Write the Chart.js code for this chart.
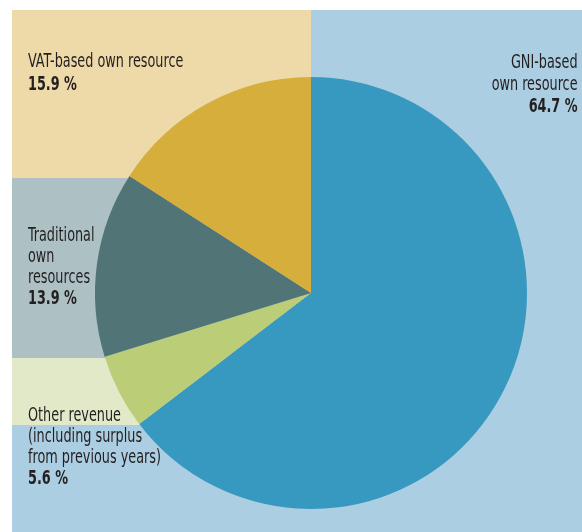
<!DOCTYPE html>
<html>
<head>
<meta charset="utf-8">
<script src="https://cdn.jsdelivr.net/npm/chart.js@4"></script>
<style>
  body { margin: 0; background: #fff; }
  #Marco { position: relative; width: 582px; height: 532px; }
  #Grafico { position: absolute; left: 0; top: 0; }
  .Etiqueta {
    position: absolute;
    font-family: "DejaVu Sans Condensed", "Liberation Sans Narrow", sans-serif;
    font-size: 19px;
    color: #231f20;
    white-space: nowrap;
    transform: scaleX(0.75);
  }
  .Etiqueta b { font-weight: bold; }
</style>
</head>
<body>
<div id="Marco">
  <canvas id="Grafico" width="582" height="532"></canvas>
  <div id="Etiquetas"></div>
</div>
<script>
const Categorias = ['GNI-based own resource', 'Other revenue (including surplus from previous years)', 'Traditional own resources', 'VAT-based own resource'];
const Valores    = [64.7, 5.6, 13.9, 15.9];
const Colores    = ['#3799bf', '#bccd78', '#517476', '#d6ae3c'];

// Lineas de texto de cada etiqueta, en el mismo orden que las categorias
const LineasEtiqueta = [
  ['GNI-based', 'own resource'],
  ['Other revenue', '(including surplus', 'from previous years)'],
  ['Traditional', 'own', 'resources'],
  ['VAT-based own resource']
];
const PosEtiqueta = [
  { right: 4,  top: 50,  alto: 22, align: 'right' },
  { left: 28,  top: 404, alto: 21, align: 'left' },
  { left: 28,  top: 224, alto: 21, align: 'left' },
  { left: 28,  top: 49,  alto: 23, align: 'left' }
];

// Bandas de fondo detras del grafico
const Fondos = [
  { x: 12,  y: 10,  w: 299, h: 168, c: '#eedaa8' },
  { x: 311, y: 10,  w: 271, h: 522, c: '#abcee2' },
  { x: 12,  y: 178, w: 299, h: 180, c: '#adc1c5' },
  { x: 12,  y: 358, w: 299, h: 67,  c: '#e2e9c8' },
  { x: 12,  y: 425, w: 299, h: 107, c: '#abcee2' }
];

const PluginFondo = {
  id: 'Fondo',
  beforeDraw(Chart) {
    const Ctx = Chart.ctx;
    Ctx.save();
    Fondos.forEach(F => {
      Ctx.fillStyle = F.c;
      Ctx.fillRect(F.x, F.y, F.w, F.h);
    });
    Ctx.restore();
  }
};

new Chart(document.getElementById('Grafico').getContext('2d'), {
  type: 'pie',
  data: {
    labels: Categorias,
    datasets: [{
      data: Valores,
      backgroundColor: Colores,
      borderWidth: 0
    }]
  },
  options: {
    responsive: false,
    animation: false,
    layout: { padding: { left: 95, right: 55, top: 77, bottom: 23 } },
    plugins: {
      legend: { display: false },
      tooltip: { enabled: false }
    }
  },
  plugins: [PluginFondo]
});

const Caja = document.getElementById('Etiquetas');
Caja.innerHTML = LineasEtiqueta.map((Lineas, I) => {
  const P = PosEtiqueta[I];
  const Lado = P.align === 'right' ? `right:${P.right}px;` : `left:${P.left}px;`;
  return `<div class="Etiqueta" style="${Lado}top:${P.top}px;line-height:${P.alto}px;text-align:${P.align};transform-origin:${P.align} top">
    ${Lineas.join('<br>')}<br><b>${Valores[I].toFixed(1)}\u00a0%</b>
  </div>`;
}).join('');
</script>
</body>
</html>
